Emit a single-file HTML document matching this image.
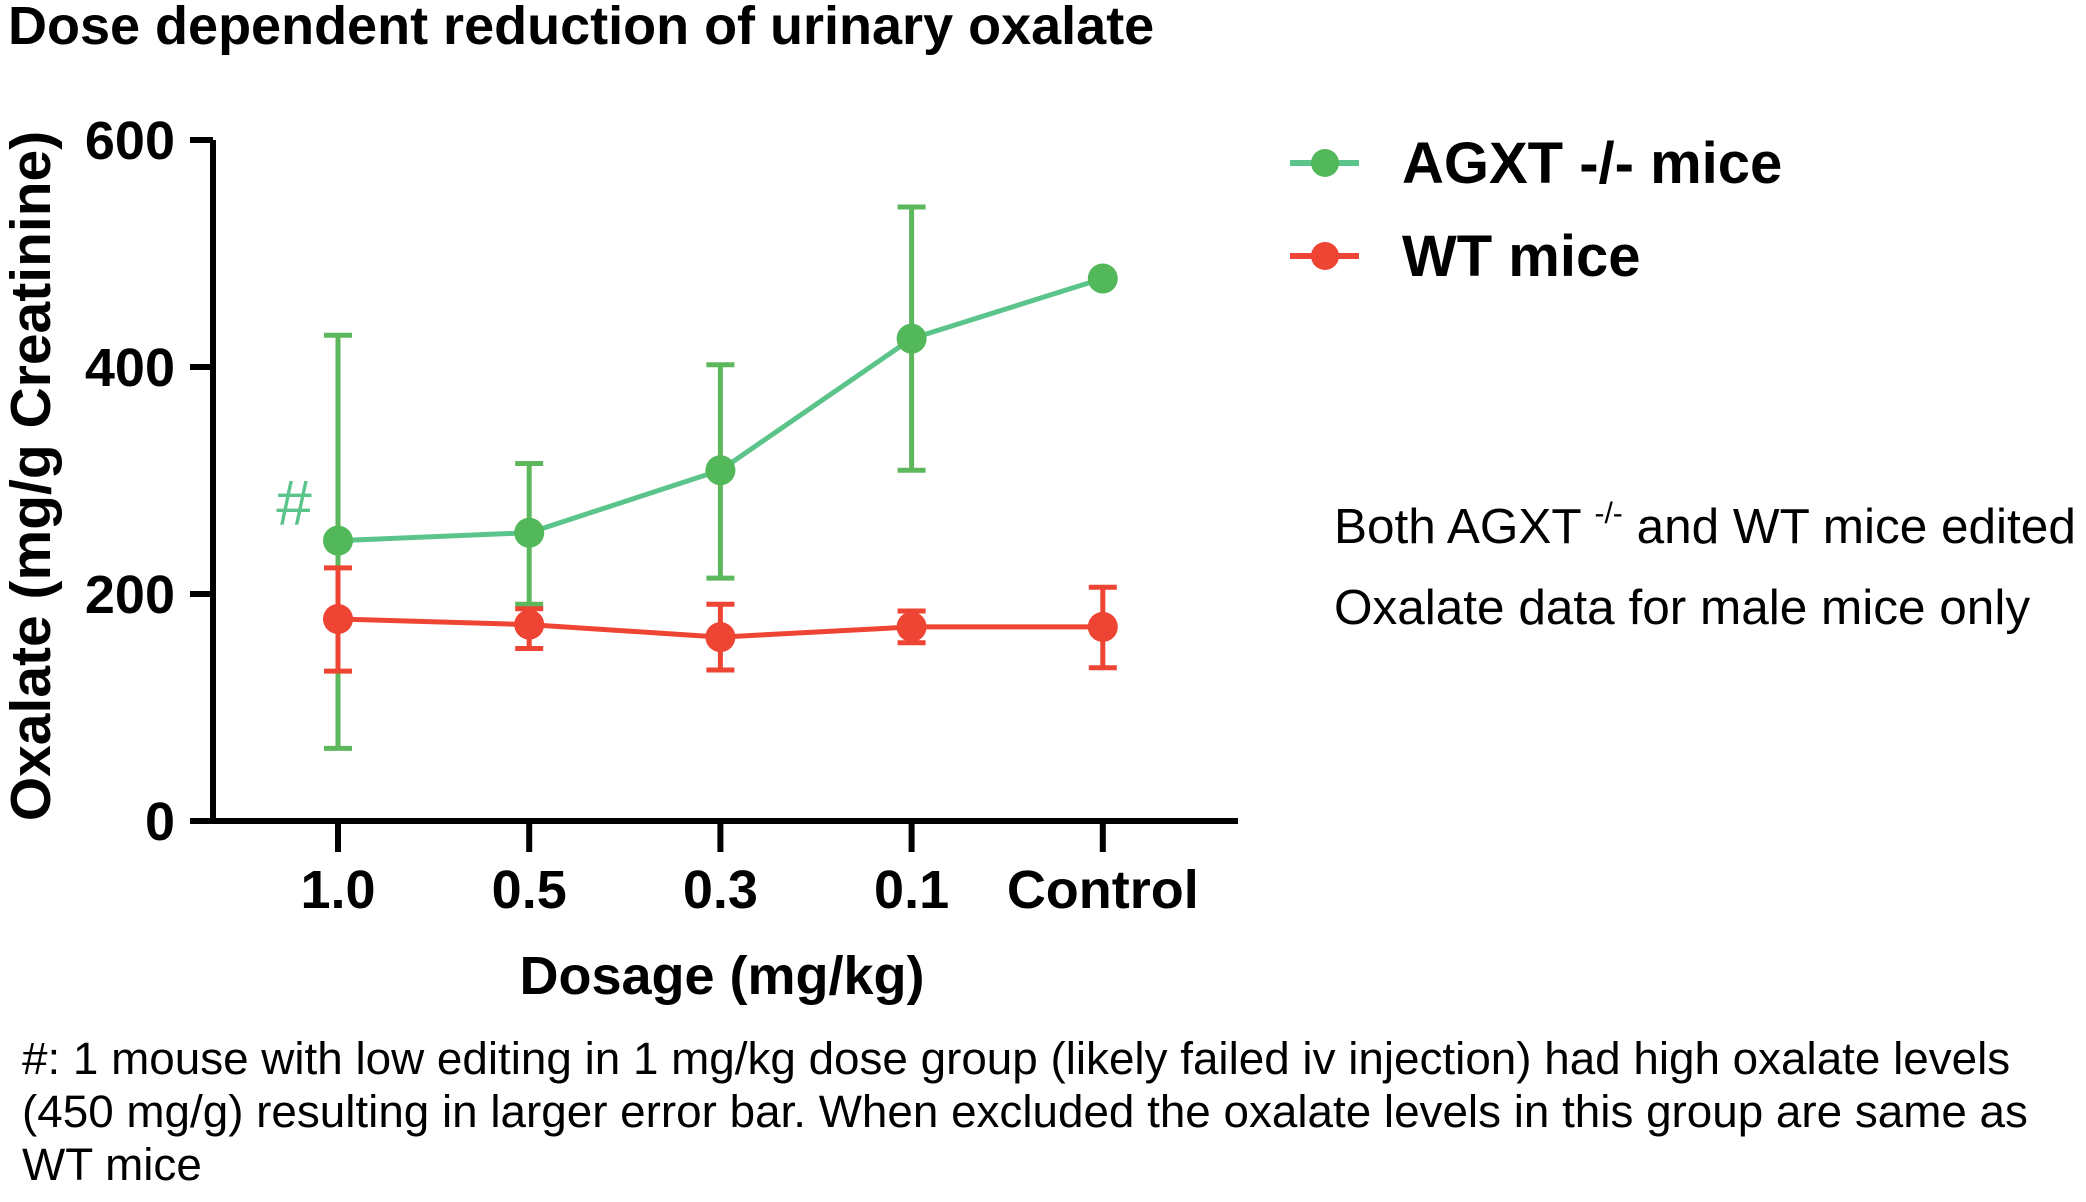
<!DOCTYPE html>
<html><head><meta charset="utf-8"><style>
body{margin:0;background:#fff;}
svg text{font-family:"Liberation Sans",Arial,sans-serif;}
</style></head><body>
<svg width="2086" height="1197" viewBox="0 0 2086 1197" xmlns="http://www.w3.org/2000/svg">
<text x="8" y="44" font-size="54" font-weight="bold">Dose dependent reduction of urinary oxalate</text>
<g id="plot"></g>
<g>
 <g>
  <line x1="1290" y1="163" x2="1359" y2="163" stroke="#5BC48A" stroke-width="6"/>
  <circle cx="1325" cy="163" r="14" fill="#52B85A"/>
  <text x="1402" y="183" font-size="58" font-weight="bold">AGXT -/- mice</text>
 </g>
 <g>
  <line x1="1290" y1="256" x2="1359" y2="256" stroke="#EE4433" stroke-width="6"/>
  <circle cx="1325" cy="256" r="14" fill="#EE4433"/>
  <text x="1402" y="276" font-size="58" font-weight="bold">WT mice</text>
 </g>
</g>
<text x="1334" y="543" font-size="49.5">Both AGXT <tspan font-size="30" dy="-20">-/-</tspan><tspan dy="20"> and WT mice edited</tspan></text>
<text x="1334" y="624" font-size="49.5">Oxalate data for male mice only</text>
<g font-size="45.8">
 <text x="22" y="1074">#: 1 mouse with low editing in 1 mg/kg dose group (likely failed iv injection) had high oxalate levels</text>
 <text x="22" y="1127">(450 mg/g) resulting in larger error bar. When excluded the oxalate levels in this group are same as</text>
 <text x="22" y="1180">WT mice</text>
</g>
</svg>
<script>
const categories=["1.0","0.5","0.3","0.1","Control"];
const agxtMean=[247,254,309,425,478];
const agxtLow=[64,191,214,309,478];
const agxtHigh=[428,315,402,541,478];
const wtMean=[178,173,162,171,171];
const wtLow=[132,152,133,157,135];
const wtHigh=[223,187,191,185,206];
const yTicks=[0,200,400,600];

const NS="http://www.w3.org/2000/svg";
const g=document.getElementById('plot');
const x0=338,dx=191.2,yBase=821,yTop=140;
function xs(i){return x0+i*dx;}
function ys(v){return yBase-(v/600)*(yBase-yTop);}
function mk(tag,attrs,parent){const e=document.createElementNS(NS,tag);for(const k in attrs)e.setAttribute(k,attrs[k]);(parent||g).appendChild(e);return e;}

let ax=mk('path',{d:`M213 ${yTop} V${yBase} H1238`,stroke:'#000','stroke-width':6,fill:'none'});


yTicks.forEach(t=>{
 const y=ys(t);
 const l=mk('line',{x1:190,x2:213,y1:y,y2:y,stroke:'#000','stroke-width':6});
 
 
 const tx=mk('text',{x:175,y:y+19,'font-size':54,'font-weight':'bold','text-anchor':'end'});
 tx.textContent=t;
 
 
});
categories.forEach((c,i)=>{
 const x=xs(i);
 const l=mk('line',{x1:x,x2:x,y1:yBase,y2:852,stroke:'#000','stroke-width':6});
 
 
 const tx=mk('text',{x:x,y:908,'font-size':54,'font-weight':'bold','text-anchor':'middle'});
 tx.textContent=c;
 
 
});
let xt=mk('text',{x:722,y:994,'font-size':54,'font-weight':'bold','text-anchor':'middle'});
xt.textContent='Dosage (mg/kg)';


let yt=mk('text',{x:0,y:0,'font-size':57,'font-weight':'bold','text-anchor':'middle',transform:'translate(50,476) rotate(-90)'});
yt.textContent='Oxalate (mg/g Creatinine)';


let hash=mk('text',{x:294,y:525,'font-size':64,fill:'#5BC48A','text-anchor':'middle'});
hash.textContent='#';



function series(mean,low,high,lineCol,ptCol,errCol,name){
 const sg=mk('g',{});
 
 
 mean.forEach((m,i)=>{
  if(high[i]===low[i])return;
  const x=xs(i);
  const e=mk('path',{d:`M${x} ${ys(low[i])} V${ys(high[i])} M${x-14} ${ys(low[i])} H${x+14} M${x-14} ${ys(high[i])} H${x+14}`,stroke:errCol,'stroke-width':5,fill:'none'},sg);
  
  
 });
 const ln=mk('polyline',{points:mean.map((m,i)=>xs(i)+','+ys(m)).join(' '),stroke:lineCol,'stroke-width':5,fill:'none'},sg);
 
 
 mean.forEach((m,i)=>{
  const c=mk('circle',{cx:xs(i),cy:ys(m),r:15,fill:ptCol},sg);
  
  
 });
}
series(agxtMean,agxtLow,agxtHigh,'#5BC48A','#52B85A','#5DB75D','agxt');
series(wtMean,wtLow,wtHigh,'#EE4433','#EE4433','#EE4433','wt');
</script>
</body></html>
